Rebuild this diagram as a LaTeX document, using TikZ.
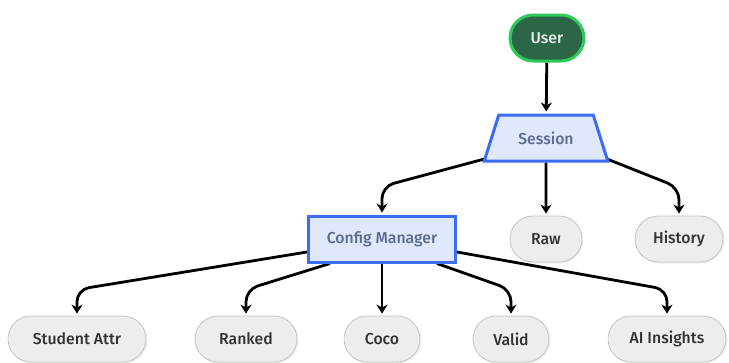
\documentclass[tikz,border=0pt]{standalone}
\usepackage{fontspec}
\setmainfont{Fira Sans Medium}
\usetikzlibrary{shapes.geometric,arrows.meta,shadows,backgrounds}

\definecolor{userfill}{HTML}{2B6647}
\definecolor{userline}{HTML}{2FCB5A}
\definecolor{blockfill}{HTML}{DFE7FB}
\definecolor{blockline}{HTML}{3A6CF4}
\definecolor{blocktext}{HTML}{5A6A90}
\definecolor{pillfill}{HTML}{EDEDED}
\definecolor{pillline}{HTML}{C4C4C4}
\definecolor{pilltext}{HTML}{333333}

\begin{document}
\begin{tikzpicture}[x=1pt,y=-1pt,
  label font/.style={font=\fontsize{15.8}{18}\selectfont},
  start/.style={label font,draw=userline,fill=userfill,line width=3pt,rounded corners=23pt,minimum height=46pt,text=white!90!userfill},
  sessionbox/.style={label font,trapezium,trapezium stretches=true,trapezium angle=64,draw=blockline,fill=blockfill,line width=3pt,minimum width=124pt,minimum height=46pt,text=blocktext},
  managerbox/.style={label font,rectangle,draw=blockline,fill=blockfill,line width=3pt,minimum width=147pt,minimum height=46pt,text=blocktext},
  pill/.style={label font,draw=pillline,fill=pillfill,line width=0.8pt,rounded corners=23pt,minimum height=46pt,text=pilltext,
    drop shadow={opacity=0.12,shadow xshift=1.5pt,shadow yshift=-1.5pt}},
  link/.style={line width=2.8pt,rounded corners=12pt,shorten >=2pt,-{Stealth[length=9pt,width=11pt]}}]
\useasboundingbox (0,0) rectangle (729,362);

% top of the tree
\node[start,minimum width=74pt] (user) at (547,38) {User};
\node[sessionbox] (session) at (546,138) {Session};

% middle row
\node[managerbox] (config) at (382,239) {Config Manager};
\node[pill,minimum width=72pt] (raw) at (546,239) {Raw};
\node[pill,minimum width=88pt] (history) at (679,239) {History};

% bottom row
\node[pill,minimum width=138pt] (student) at (77,339) {Student Attr};
\node[pill,minimum width=102pt] (ranked) at (246,339) {Ranked};
\node[pill,minimum width=76pt] (coco) at (382,339) {Coco};
\node[pill,minimum width=76pt] (valid) at (511,339) {Valid};
\node[pill,minimum width=118pt] (insights) at (667,339) {AI Insights};

% connectors, kept under the boxes
\begin{scope}[on background layer]
\draw[link] (user) -- (session);
\draw[link] ([shift={(4pt,4pt)}]session.bottom left corner) -- ([yshift=28pt]config.north) -- (config.north);
\draw[link] (session) -- (raw);
\draw[link] ([shift={(-4pt,4pt)}]session.bottom right corner) -- ([yshift=28pt]history.north) -- (history.north);

\draw[link] ([yshift=-13pt]config.west) -- ([yshift=26pt]student.north) -- (student.north);
\draw[link] ([xshift=-52pt]config.south) -- ([yshift=26pt]ranked.north) -- (ranked.north);
\draw[link] (config) -- (coco);
\draw[link] ([xshift=55pt]config.south) -- ([yshift=26pt]valid.north) -- (valid.north);
\draw[link] ([yshift=-13pt]config.east) -- ([yshift=26pt]insights.north) -- (insights.north);
\end{scope}
\end{tikzpicture}
\end{document}
